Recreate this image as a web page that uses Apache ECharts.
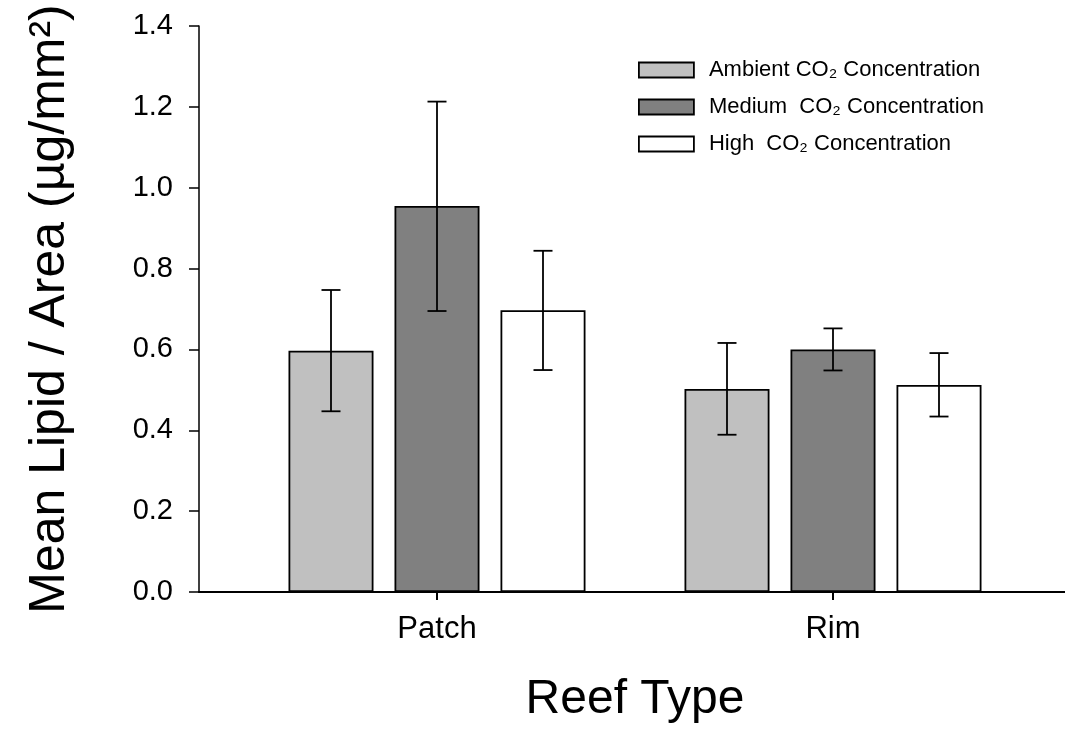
<!DOCTYPE html>
<html>
<head>
<meta charset="utf-8">
<script src="https://cdn.jsdelivr.net/npm/echarts@6/dist/echarts.min.js"></script>
<style>
  html, body { margin: 0; padding: 0; background: #fff; }
  #chart { width: 1065px; height: 730px; }
</style>
</head>
<body>
<div id="chart"></div>
<script>
// ---- data ----
const categories = ['Patch', 'Rim'];
const seriesNames = ['Ambient CO\u2082 Concentration', 'Medium  CO\u2082 Concentration', 'High  CO\u2082 Concentration'];
const ambientMean = [0.597, 0.502];
const mediumMean  = [0.955, 0.600];
const highMean    = [0.697, 0.512];
const ambientLow  = [0.447, 0.389];
const ambientHigh = [0.747, 0.616];
const mediumLow   = [0.695, 0.548];
const mediumHigh  = [1.213, 0.652];
const highLow     = [0.549, 0.434];
const highHigh    = [0.844, 0.591];
const yMin = 0, yMax = 1.4, yInterval = 0.2;

// ---- style ----
const FONT = '"Liberation Sans", Arial, sans-serif';
const colors = ['#c0c0c0', '#808080', '#ffffff'];
const BAR_W = 85, BAR_SPACE = 21, CAP = 19;

const means = [ambientMean, mediumMean, highMean];
const lows = [ambientLow, mediumLow, highLow];
const highs = [ambientHigh, mediumHigh, highHigh];

const errData = [];
for (let s = 0; s < 3; s++) {
  for (let c = 0; c < categories.length; c++) {
    errData.push([c, lows[s][c], highs[s][c], s]);
  }
}

const barSeries = seriesNames.map((name, i) => ({
  name: name,
  type: 'bar',
  xAxisIndex: 1,
  yAxisIndex: 1,
  data: means[i],
  barWidth: BAR_W,
  barGap: (BAR_SPACE / BAR_W * 100) + '%',
  itemStyle: { color: colors[i], borderColor: '#000', borderWidth: 1.8 },
  z: 2
}));

const errSeries = {
  type: 'custom',
  xAxisIndex: 1,
  yAxisIndex: 1,
  data: errData,
  encode: { x: 0, y: [1, 2] },
  z: 5,
  renderItem: function (params, api) {
    const c = api.value(0), lo = api.value(1), hi = api.value(2), s = api.value(3);
    const pLo = api.coord([c, lo]);
    const pHi = api.coord([c, hi]);
    const x = pLo[0] + (s - 1) * (BAR_W + BAR_SPACE);
    const hw = CAP / 2;
    const st = { stroke: '#000', lineWidth: 1.8 };
    return {
      type: 'group',
      children: [
        { type: 'line', shape: { x1: x, y1: pHi[1], x2: x, y2: pLo[1] }, style: st },
        { type: 'line', shape: { x1: x - hw, y1: pHi[1], x2: x + hw, y2: pHi[1] }, style: st },
        { type: 'line', shape: { x1: x - hw, y1: pLo[1], x2: x + hw, y2: pLo[1] }, style: st }
      ]
    };
  }
};

const chart = echarts.init(document.getElementById('chart'), null, { renderer: 'canvas' });
chart.setOption({
  animation: false,
  backgroundColor: '#ffffff',
  textStyle: { fontFamily: FONT, color: '#000' },
  grid: [
    { left: 199, right: 0, top: 26, bottom: 138 },
    { left: 239, right: 34, top: 26, bottom: 138 }
  ],
  legend: {
    orient: 'vertical',
    left: 633,
    top: 54,
    itemWidth: 55,
    itemHeight: 15,
    itemGap: 15,
    icon: 'rect',
    selectedMode: false,
    data: seriesNames.map((n, i) => ({ name: n, itemStyle: { color: colors[i], borderColor: '#000', borderWidth: 1.8 } })),
    formatter: function (name) { return '{g|}' + name; },
    textStyle: { fontFamily: FONT, fontSize: 22, color: '#000', rich: { g: { width: 10 } } }
  },
  xAxis: [
    {
      gridIndex: 0, type: 'value', min: 0, max: 1,
      axisLine: { show: true, lineStyle: { color: '#000', width: 2 } },
      axisTick: { show: false }, axisLabel: { show: false }, splitLine: { show: false }
    },
    {
      gridIndex: 1, type: 'category', data: categories,
      axisLine: { show: false },
      axisTick: { show: true, alignWithLabel: true, length: 8, lineStyle: { color: '#000', width: 2 } },
      axisLabel: { fontFamily: FONT, fontSize: 31, color: '#000', margin: 22 },
      splitLine: { show: false },
      name: 'Reef Type', nameLocation: 'middle', nameGap: 84,
      nameTextStyle: { fontFamily: FONT, fontSize: 48, color: '#000' }
    }
  ],
  yAxis: [
    {
      gridIndex: 0, type: 'value', min: yMin, max: yMax, interval: yInterval,
      axisLine: { show: true, lineStyle: { color: '#000', width: 1.5 } },
      axisTick: { show: true, length: 10, lineStyle: { color: '#000', width: 1.5 } },
      axisLabel: { fontFamily: FONT, fontSize: 29, color: '#000', margin: 26, formatter: v => v.toFixed(1) },
      splitLine: { show: false },
      name: 'Mean Lipid / Area (\u00b5g/mm\u00b2)', nameLocation: 'middle', nameGap: 124,
      nameTextStyle: { fontFamily: FONT, fontSize: 50, color: '#000' }
    },
    { gridIndex: 1, type: 'value', min: yMin, max: yMax, interval: yInterval, show: false }
  ],
  series: barSeries.concat([errSeries])
});
</script>
</body>
</html>
